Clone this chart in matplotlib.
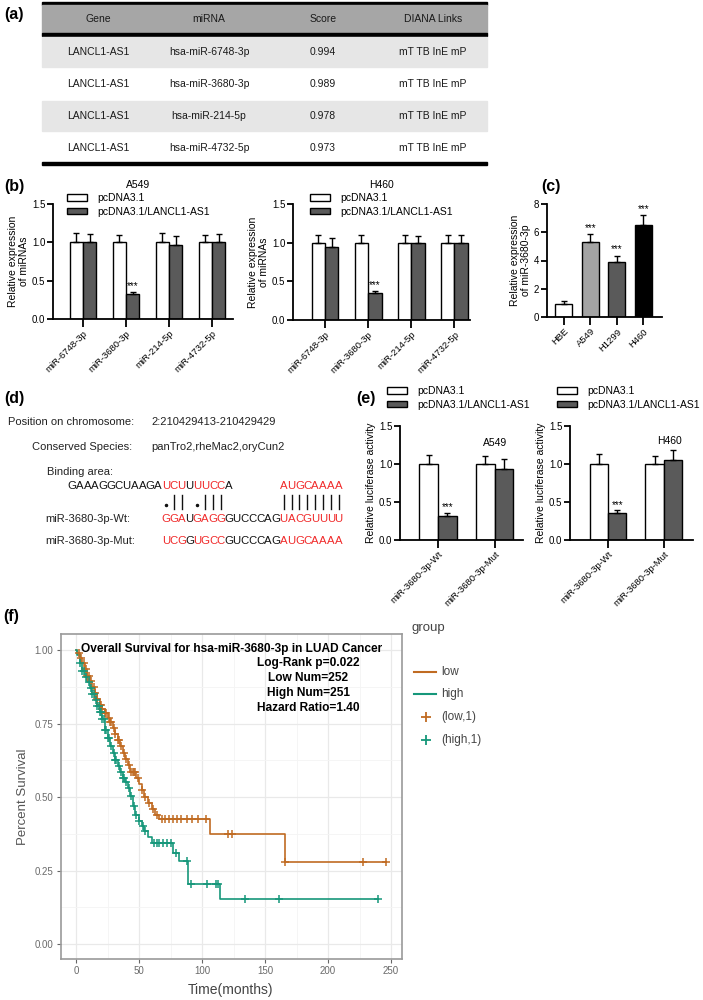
import matplotlib
matplotlib.use('Agg')
import matplotlib.pyplot as plt
import numpy as np
from matplotlib.patches import Rectangle

plt.rcParams['font.family'] = ['Liberation Sans', 'DejaVu Sans']

# ---- (a) table
tab_header = ['Gene', 'miRNA', 'Score', 'DIANA Links']
tab_gene = ['LANCL1-AS1', 'LANCL1-AS1', 'LANCL1-AS1', 'LANCL1-AS1']
tab_mirna = ['hsa-miR-6748-3p', 'hsa-miR-3680-3p', 'hsa-miR-214-5p', 'hsa-miR-4732-5p']
tab_score = [0.994, 0.989, 0.978, 0.973]
tab_links = ['mT TB InE mP', 'mT TB InE mP', 'mT TB InE mP', 'mT TB InE mP']

# ---- (b) miRNA expression
b_mirs = ['miR-6748-3p', 'miR-3680-3p', 'miR-214-5p', 'miR-4732-5p']
b_a549_ctrl = [1.0, 1.0, 1.0, 1.0]
b_a549_ctrl_err = [0.12, 0.10, 0.12, 0.10]
b_a549_ov = [1.0, 0.32, 0.97, 1.0]
b_a549_ov_err = [0.11, 0.03, 0.11, 0.11]
b_h460_ctrl = [1.0, 1.0, 1.0, 1.0]
b_h460_ctrl_err = [0.10, 0.10, 0.10, 0.10]
b_h460_ov = [0.95, 0.35, 1.0, 1.0]
b_h460_ov_err = [0.11, 0.03, 0.09, 0.10]

# ---- (c) cell lines
c_cells = ['HBE', 'A549', 'H1299', 'H460']
c_expr = [0.95, 5.3, 3.9, 6.5]
c_err = [0.15, 0.55, 0.45, 0.7]
c_colors = ['white', '#a3a3a3', '#5a5a5a', 'black']

# ---- (d) binding site
d_position = '2:210429413-210429429'
d_species = 'panTro2,rheMac2,oryCun2'
d_top_seq = 'GAAAGGCUAAGAUCUUUUCCA'
d_top_red = '000000000000111011110'
d_top_seq2 = 'AUGCAAAA'
d_pairs = '·|| ·|||       ||||||||'
d_wt_seq = 'GGAUGAGGGUCCCAGUACGUUUU'
d_mut_seq = 'UCGGUGCCGUCCCAGAUGCAAAA'
d_seq_red = '11101111000000011111111'

# ---- (e) luciferase
e_groups = ['miR-3680-3p-Wt', 'miR-3680-3p-Mut']
e_a549_ctrl = [1.0, 1.0]
e_a549_ctrl_err = [0.12, 0.10]
e_a549_ov = [0.32, 0.94]
e_a549_ov_err = [0.04, 0.12]
e_h460_ctrl = [1.0, 1.0]
e_h460_ctrl_err = [0.13, 0.10]
e_h460_ov = [0.36, 1.05]
e_h460_ov_err = [0.03, 0.13]

# ---- (f) Kaplan-Meier (step drop times and survival after each drop)
low_drop_t = [1, 3, 5, 7, 9, 11, 13, 15, 17, 19, 21, 23, 25, 27, 29, 31, 33, 35, 37, 39,
              41, 43, 48, 50, 52, 54, 57, 60, 63, 66, 106, 166]
low_drop_s = [0.99, 0.975, 0.955, 0.935, 0.912, 0.895, 0.875, 0.855, 0.833, 0.815, 0.80,
              0.785, 0.77, 0.754, 0.735, 0.715, 0.695, 0.675, 0.65, 0.63, 0.61, 0.585,
              0.565, 0.545, 0.525, 0.50, 0.48, 0.46, 0.44, 0.426, 0.375, 0.28]
low_end = 246
low_cens_t = [2, 4, 6, 8, 9, 10, 12, 14, 15, 17, 19, 20, 21, 23, 24, 26, 27, 28, 30, 31, 33,
              34, 36, 38, 40, 42, 44, 45, 46, 47, 49, 52, 55, 58, 61, 64, 68, 71, 74, 77,
              80, 83, 88, 92, 97, 103, 121, 124, 166, 228, 246]
high_drop_t = [1, 3, 5, 7, 9, 11, 13, 15, 17, 19, 21, 23, 25, 27, 29, 31, 33, 35, 37, 39,
               41, 43, 45, 47, 50, 52, 54, 57, 60, 77, 82, 89, 114]
high_drop_s = [0.985, 0.955, 0.93, 0.91, 0.89, 0.87, 0.85, 0.83, 0.81, 0.79, 0.765, 0.73,
               0.70, 0.675, 0.65, 0.625, 0.605, 0.585, 0.565, 0.55, 0.53, 0.505, 0.47,
               0.44, 0.42, 0.40, 0.385, 0.365, 0.345, 0.31, 0.283, 0.205, 0.154]
high_end = 240
high_cens_t = [3, 5, 6, 8, 10, 12, 13, 14, 16, 17, 18, 19, 20, 21, 22, 23, 24, 25, 26, 28,
               30, 31, 32, 34, 36, 37, 38, 40, 42, 44, 46, 48, 50, 53, 55, 62, 64, 66, 69,
               72, 75, 79, 88, 91, 104, 111, 113, 134, 161, 240]
km_stats = ['Log-Rank p=0.022', 'Low Num=252', 'High Num=251', 'Hazard Ratio=1.40']

LOW_C = '#c06b22'
HIGH_C = '#16977a'
RED = '#f02828'
DARK = '#5a5a5a'

fig = plt.figure(figsize=(7.03, 10), dpi=100)
ov = fig.add_axes([0, 0, 1, 1])
ov.set_xlim(0, 703)
ov.set_ylim(1000, 0)
ov.axis('off')


def px_axes(x0, y0, x1, y1):
    return fig.add_axes([x0 / 703, 1 - y1 / 1000, (x1 - x0) / 703, (y1 - y0) / 1000])


def fig_xy(x, y):
    return (x / 703, 1 - y / 1000)


def prism(ax, ymax, yticks, ylabel):
    for s in ['top', 'right']:
        ax.spines[s].set_visible(False)
    for s in ['left', 'bottom']:
        ax.spines[s].set_linewidth(1.3)
    ax.spines['left'].set_bounds(0, ymax)
    ax.set_ylim(0, ymax)
    ax.set_yticks(yticks)
    ax.tick_params(axis='y', length=4, width=1.3, labelsize=7, pad=1.5)
    ax.tick_params(axis='x', length=6, width=1.3, labelsize=6.8, pad=1)
    ax.set_ylabel(ylabel, fontsize=7.5, labelpad=2, linespacing=1.1)
    ax.set_facecolor('none')


def grouped(ax, cats, ctrl, ctrl_err, ovx, ovx_err, w):
    x = np.arange(len(cats))
    b1 = ax.bar(x - w / 2, ctrl, w, color='white', edgecolor='black', linewidth=1, zorder=2)
    b2 = ax.bar(x + w / 2, ovx, w, color=DARK, edgecolor='black', linewidth=1, zorder=2)
    for xs, v, e in [(x - w / 2, ctrl, ctrl_err), (x + w / 2, ovx, ovx_err)]:
        ax.errorbar(xs, v, yerr=[np.zeros(len(v)), e], fmt='none', ecolor='black',
                    elinewidth=1, capsize=2.5, capthick=1, zorder=3)
    ax.set_xticks(x)
    ax.set_xticklabels(cats, rotation=45, ha='right', rotation_mode='anchor')
    return b1, b2, x


def stars(ax, xs, tops):
    for xx, t in zip(xs, tops):
        ax.text(xx, t, '***', ha='center', va='bottom', fontsize=7)


def leg(ax, handles, x, y):
    ax.legend(handles, ['pcDNA3.1', 'pcDNA3.1/LANCL1-AS1'], loc='upper left',
              bbox_to_anchor=fig_xy(x, y), bbox_transform=fig.transFigure, frameon=False,
              fontsize=7.5, handlelength=1.9, handleheight=0.6, handletextpad=1.0,
              labelspacing=0.35, borderpad=0, borderaxespad=0)


# ---------------- (a)
TX0, TX1 = 42, 487
ov.add_patch(Rectangle((TX0, 1.5), TX1 - TX0, 3, color='black'))
ov.add_patch(Rectangle((TX0, 4.5), TX1 - TX0, 28.5, color='#a6a6a6'))
ov.add_patch(Rectangle((TX0, 33), TX1 - TX0, 3, color='black'))
ov.add_patch(Rectangle((TX0, 162), TX1 - TX0, 3, color='black'))
cols_x = [98, 209, 323, 433]
row_y = [52, 84, 116, 148]
for i, y in enumerate(row_y):
    if i % 2 == 0:
        ov.add_patch(Rectangle((TX0, y - 15), TX1 - TX0, 30, color='#e6e6e6'))
for cx, h in zip(cols_x, tab_header):
    ov.text(cx, 19, h, ha='center', va='center', fontsize=7.5, color='#1a1a1a')
for i, y in enumerate(row_y):
    vals = [tab_gene[i], tab_mirna[i], '%.3f' % tab_score[i], tab_links[i]]
    for cx, v in zip(cols_x, vals):
        ov.text(cx, y, v, ha='center', va='center', fontsize=7.5, color='#1a1a1a')

# panel labels
for lab, x, y in [('(a)', 4, 15), ('(b)', 4, 187), ('(c)', 541, 187), ('(d)', 4, 399),
                  ('(e)', 356, 399), ('(f)', 3, 616)]:
    ov.text(x, y, lab, ha='left', va='center', fontsize=11.5, fontweight='bold')

# ---------------- (b)
ax_b1 = px_axes(53, 204, 233, 319)
b1, b2, xb = grouped(ax_b1, b_mirs, b_a549_ctrl, b_a549_ctrl_err, b_a549_ov, b_a549_ov_err, 0.31)
prism(ax_b1, 1.5, [0.0, 0.5, 1.0, 1.5], 'Relative expression\nof miRNAs')
ax_b1.set_xlim(-0.7, 3.49)
stars(ax_b1, [xb[1] + 0.155], [b_a549_ov[1] + b_a549_ov_err[1] + 0.01])
leg(ax_b1, [b1, b2], 67, 193)
ov.text(138, 185, 'A549', ha='center', va='center', fontsize=7.5)

ax_b2 = px_axes(293, 204, 470, 320)
b1, b2, xb = grouped(ax_b2, b_mirs, b_h460_ctrl, b_h460_ctrl_err, b_h460_ov, b_h460_ov_err, 0.31)
prism(ax_b2, 1.5, [0.0, 0.5, 1.0, 1.5], 'Relative expression\nof miRNAs')
ax_b2.set_xlim(-0.74, 3.36)
stars(ax_b2, [xb[1] + 0.155], [b_h460_ov[1] + b_h460_ov_err[1] + 0.01])
leg(ax_b2, [b1, b2], 310, 193)
ov.text(382, 185, 'H460', ha='center', va='center', fontsize=7.5)

# ---------------- (c)
ax_c = px_axes(547, 204, 662, 317)
xc = np.arange(len(c_cells))
ax_c.bar(xc, c_expr, 0.64, color=c_colors, edgecolor='black', linewidth=1, zorder=2)
ax_c.errorbar(xc, c_expr, yerr=[np.zeros(len(xc)), c_err], fmt='none', ecolor='black',
              elinewidth=1, capsize=2.5, capthick=1, zorder=3)
prism(ax_c, 8, [0, 2, 4, 6, 8], 'Relative expression\nof miR-3680-3p')
ax_c.set_xticks(xc)
ax_c.set_xticklabels(c_cells, rotation=45, ha='right', rotation_mode='anchor')
ax_c.set_xlim(-0.64, 3.7)
stars(ax_c, xc[1:], [v + e + 0.1 for v, e in zip(c_expr[1:], c_err[1:])])

# ---------------- (d)
CW = 7.85
SX = 162
ov.text(8, 422, 'Position on chromosome:', fontsize=8, va='center', color='#222')
ov.text(151, 422, d_position, fontsize=8, va='center', color='#222')
ov.text(32, 447, 'Conserved Species:', fontsize=8, va='center', color='#222')
ov.text(151, 447, d_species, fontsize=8, va='center', color='#222')
ov.text(47, 472, 'Binding area:', fontsize=8, va='center', color='#222')
for i, (ch, r) in enumerate(zip(d_top_seq, d_top_red)):
    ov.text(SX + (i - 12 + 0.5) * CW, 486, ch, ha='center', va='center', fontsize=8.2,
            color=RED if r == '1' else '#111')
for i, ch in enumerate(d_top_seq2):
    ov.text(SX + (i + 15 + 0.5) * CW, 486, ch, ha='center', va='center', fontsize=8.2, color=RED)
for i, ch in enumerate(d_pairs):
    xx = SX + (i + 0.5) * CW
    if ch == '|':
        ov.plot([xx, xx], [495, 509], color='#111', lw=1)
    elif ch == '·':
        ov.plot([xx], [505], marker='o', ms=1.5, color='#111')
ov.text(45, 519, 'miR-3680-3p-Wt:', fontsize=8, va='center', color='#222')
ov.text(45, 541, 'miR-3680-3p-Mut:', fontsize=8, va='center', color='#222')
for yy, seq in [(519, d_wt_seq), (541, d_mut_seq)]:
    for i, (ch, r) in enumerate(zip(seq, d_seq_red)):
        ov.text(SX + (i + 0.5) * CW, yy, ch, ha='center', va='center', fontsize=8.2,
                color=RED if r == '1' else '#111')

# ---------------- (e)
ax_e1 = px_axes(400, 426, 523, 540)
b1, b2, xe = grouped(ax_e1, e_groups, e_a549_ctrl, e_a549_ctrl_err, e_a549_ov, e_a549_ov_err, 0.33)
prism(ax_e1, 1.5, [0.0, 0.5, 1.0, 1.5], 'Relative luciferase activity')
ax_e1.set_xlim(-0.67, 1.5)
stars(ax_e1, [xe[0] + 0.165], [e_a549_ov[0] + e_a549_ov_err[0] + 0.01])
ax_e1.text(1, 1.28, 'A549', ha='center', va='center', fontsize=7.5)
leg(ax_e1, [b1, b2], 387, 386)

ax_e2 = px_axes(570, 426, 693, 540)
b1, b2, xe = grouped(ax_e2, e_groups, e_h460_ctrl, e_h460_ctrl_err, e_h460_ov, e_h460_ov_err, 0.33)
prism(ax_e2, 1.5, [0.0, 0.5, 1.0, 1.5], 'Relative luciferase activity')
ax_e2.set_xlim(-0.68, 1.52)
stars(ax_e2, [xe[0] + 0.165], [e_h460_ov[0] + e_h460_ov_err[0] + 0.01])
ax_e2.text(1.1, 1.30, 'H460', ha='center', va='center', fontsize=7.5)
leg(ax_e2, [b1, b2], 557, 386)

# ---------------- (f)
ax_f = px_axes(60.5, 634, 402, 959)
ax_f.set_xlim(-12.3, 258.7)
ax_f.set_ylim(-0.051, 1.055)
ax_f.set_xticks([0, 50, 100, 150, 200, 250])
ax_f.set_xticks([25, 75, 125, 175, 225], minor=True)
ax_f.set_yticks([0, 0.25, 0.5, 0.75, 1.0])
ax_f.set_yticks([0.125, 0.375, 0.625, 0.875], minor=True)
ax_f.set_yticklabels(['0.00', '0.25', '0.50', '0.75', '1.00'])
ax_f.grid(True, which='major', color='#e9e9e9', lw=0.9)
ax_f.grid(True, which='minor', color='#f4f4f4', lw=0.6)
ax_f.set_axisbelow(True)
for s in ax_f.spines.values():
    s.set_color('#9a9a9a')
    s.set_linewidth(1.2)
ax_f.tick_params(which='major', length=3, color='#666', labelcolor='#6a6a6a', labelsize=7, pad=2)
ax_f.tick_params(which='minor', length=0)

for dt, ds, end, cens, col in [(low_drop_t, low_drop_s, low_end, low_cens_t, LOW_C),
                               (high_drop_t, high_drop_s, high_end, high_cens_t, HIGH_C)]:
    t = np.array([0] + dt + [end], dtype=float)
    s = np.array([1.0] + ds + [ds[-1]])
    ax_f.step(t, s, where='post', color=col, lw=1.2, zorder=3)
    ct = np.array(cens, dtype=float)
    cs = s[np.searchsorted(t, ct, side='right') - 1]
    ax_f.plot(ct, cs, ls='none', marker='+', ms=5.5, mew=1.1, color=col, zorder=4)

ax_f.text(0.5, 0.955, 'Overall Survival for hsa-miR-3680-3p in LUAD Cancer', transform=ax_f.transAxes,
          ha='center', va='center', fontsize=8.6, fontweight='bold')
for k, txt in enumerate(km_stats):
    ax_f.text(0.725, 0.911 - k * 0.0465, txt, transform=ax_f.transAxes, ha='center', va='center',
              fontsize=8.6, fontweight='bold')

ov.text(23, 797, 'Percent Survival', rotation=90, ha='center', va='center', fontsize=9.5, color='#555')
ov.text(231, 990, 'Time(months)', ha='center', va='center', fontsize=10, color='#444')
ov.text(411, 628, 'group', ha='left', va='center', fontsize=9.5, color='#444')
ov.plot([414, 436], [672, 672], color=LOW_C, lw=1.5)
ov.plot([414, 436], [694, 694], color=HIGH_C, lw=1.5)
ov.plot([426], [717], marker='+', ms=6.5, mew=1.3, color=LOW_C)
ov.plot([426], [740], marker='+', ms=6.5, mew=1.3, color=HIGH_C)
for yy, txt in [(672, 'low'), (694, 'high'), (717, '(low,1)'), (740, '(high,1)')]:
    ov.text(441, yy, txt, ha='left', va='center', fontsize=8.5, color='#444')

fig.savefig('out.png', dpi=100)
